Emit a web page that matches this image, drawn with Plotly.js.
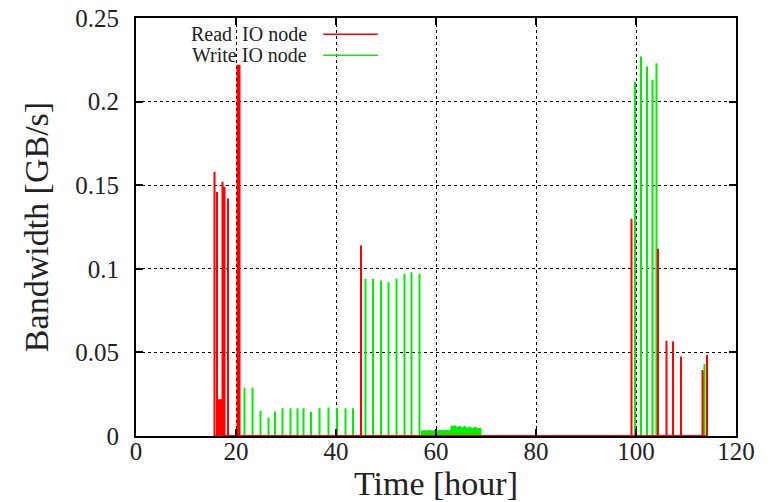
<!DOCTYPE html>
<html>
<head>
<meta charset="utf-8">
<script src="https://cdn.plot.ly/plotly-3.0.1.min.js"></script>
<style>html,body{margin:0;padding:0;background:#fff;}</style>
</head>
<body>
<div id="chart" style="width:771px;height:502px;"></div>
<script>
// ---- data ----
const readTimes = [15.7, 16.2, 16.5, 16.9, 17.3, 17.7, 18.4, 20.3, 20.7, 45.0, 99.1, 104.4, 106.1, 107.4, 109.0, 113.3, 114.2];
const readPeaks = [0.158, 0.146, 0.022, 0.022, 0.152, 0.149, 0.142, 0.222, 0.222, 0.114, 0.130, 0.112, 0.057, 0.0565, 0.0475, 0.0395, 0.0485];

const writeTimes = [21.7, 23.3, 24.9, 26.5, 27.8, 29.3, 30.9, 32.3, 33.5, 35.0, 36.7, 38.5, 40.2, 41.9, 43.4,
                    45.9, 47.4, 49.0, 50.5, 52.1, 53.7, 55.1, 56.7,
                    99.8, 101.0, 102.2, 103.3, 104.1, 104.4, 113.5, 113.7];
const writePeaks = [0.0288, 0.0288, 0.015, 0.011, 0.0147, 0.0166, 0.0166, 0.0166, 0.0166, 0.0143, 0.0166, 0.0171, 0.0166, 0.0166, 0.0166,
                    0.094, 0.094, 0.093, 0.092, 0.094, 0.097, 0.098, 0.097,
                    0.212, 0.227, 0.221, 0.213, 0.223, 0.058, 0.038, 0.043];

const writeLowTimes = [57.0, 57.5, 58.0, 58.5, 59.0, 59.5, 60.0, 60.5, 61.0, 61.5, 62.0, 62.5,
                       63.0, 63.5, 64.0, 64.5, 65.0, 65.5, 66.0, 66.5, 67.0, 67.5, 68.0, 68.5, 69.0];
const writeLowValues = [0.003, 0.0032, 0.003, 0.0033, 0.003, 0.0032, 0.003, 0.0034, 0.0032, 0.0035, 0.0033, 0.0035,
                        0.0058, 0.006, 0.0052, 0.0056, 0.0048, 0.0055, 0.0047, 0.0052, 0.0045, 0.005, 0.0047, 0.0045, 0];

const seriesNames = ["Read\u00a0 IO node", "Write IO node"];
const seriesColors = ["#ff0000", "#00ee00"];
const xTicks = [0, 20, 40, 60, 80, 100, 120];

function spikes(times, peaks) {
  const x = [], y = [];
  times.forEach((t, i) => { x.push(t, t, t); y.push(0, peaks[i], 0); });
  return {x, y};
}

const r = spikes(readTimes, readPeaks);
const w = spikes(writeTimes, writePeaks);

const traces = [
  {x: w.x, y: w.y, type: 'scatter', mode: 'lines', name: seriesNames[1],
   line: {color: seriesColors[1], width: 2}, showlegend: false},
  {x: writeLowTimes, y: writeLowValues, type: 'scatter', mode: 'lines', name: seriesNames[1],
   line: {color: seriesColors[1], width: 1, shape: 'hv'}, fill: 'tozeroy', fillcolor: seriesColors[1], showlegend: false},
  {x: r.x, y: r.y, type: 'scatter', mode: 'lines', name: seriesNames[0],
   line: {color: seriesColors[0], width: 2}, showlegend: false}
];

const font = "Liberation Serif, Times New Roman, serif";
const axisCommon = {
  showline: true, linecolor: '#000', linewidth: 2, mirror: 'ticks',
  ticks: 'inside', ticklen: 7, tickwidth: 2, tickcolor: '#000',
  showgrid: true, gridcolor: '#000', griddash: 'dot', gridwidth: 1,
  zeroline: false, tickfont: {family: font, size: 25, color: '#222'}
};

const legX0 = 0.312, legX1 = 0.403, legTextX = 0.288, legY = [0.961, 0.911];

const layout = {
  width: 771, height: 502,
  margin: {l: 136, r: 35, t: 18, b: 66},
  paper_bgcolor: '#fff', plot_bgcolor: '#fff',
  showlegend: false,
  xaxis: Object.assign({}, axisCommon, {
    range: [0, 120], tickvals: xTicks, ticktext: xTicks.map(String),
    ticklabelstandoff: -8,
    title: {text: 'Time [hour]', font: {family: font, size: 34, color: '#222'}, standoff: 10}
  }),
  yaxis: Object.assign({}, axisCommon, {
    range: [0, 0.25], dtick: 0.05, tick0: 0,
    ticklabelstandoff: 10,
    title: {text: 'Bandwidth [GB/s]', font: {family: font, size: 34, color: '#222'}, standoff: 16}
  }),
  annotations: seriesNames.map((n, i) => ({
    xref: 'paper', yref: 'paper', x: legTextX, y: legY[i], xanchor: 'right', yanchor: 'middle',
    text: n, showarrow: false, font: {family: font, size: 20, color: '#222'}
  })),
  shapes: seriesNames.map((n, i) => ({
    type: 'line', xref: 'paper', yref: 'paper', x0: legX0, x1: legX1, y0: legY[i], y1: legY[i],
    line: {color: seriesColors[i], width: 1.5}
  }))
};

Plotly.newPlot('chart', traces, layout, {staticPlot: true, displayModeBar: false});
</script>
</body>
</html>
